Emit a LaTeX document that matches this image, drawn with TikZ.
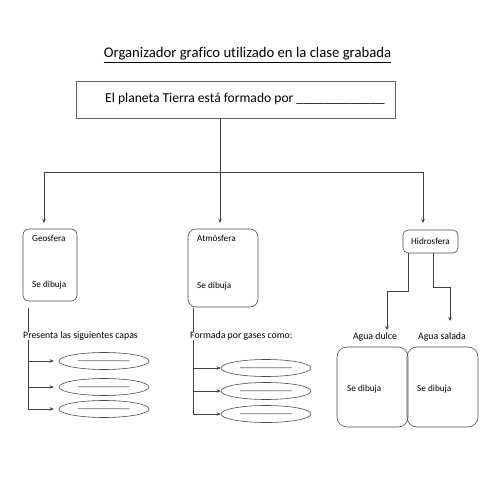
\documentclass[tikz,border=0pt]{standalone}
\usepackage{fontspec}
\setmainfont{Carlito}[Ligatures=NoCommon]
\usetikzlibrary{arrows.meta,positioning,shapes.geometric}

\begin{document}
\begin{tikzpicture}[x=1pt,y=-1pt,
  line/.style={draw=black!75,line width=0.6pt},
  arr/.style={line,-{Stealth[length=4pt,width=3.5pt]}},
  box/.style={draw=black!70,line width=0.6pt,inner sep=0pt},
  lbl/.style={font=\fontsize{9.2}{11}\selectfont,inner sep=0pt},
  sub/.style={font=\fontsize{9.8}{11}\selectfont,inner sep=0pt},
  capa/.style={ellipse,draw=black!70,line width=0.6pt,minimum width=90pt,minimum height=17pt,inner sep=0pt,font=\fontsize{8}{9}\selectfont}
]
\useasboundingbox[fill=white] (0,0) rectangle (495,495);

% titulo y recuadro principal
\node[font=\fontsize{14.7}{17}\selectfont] (title) at (247.5,55) {\underline{Organizador grafico utilizado en la clase grabada}};
\node[draw=black!60,line width=0.8pt,minimum width=319pt,minimum height=37pt,inner sep=0pt] (top) at (235.5,99.5) {};
\node[font=\fontsize{13.6}{15}\selectfont,anchor=west,inner sep=0pt] (frase) at (105,99) {El planeta Tierra está formado por \_\_\_\_\_\_\_\_\_\_\_\_\_};

% tres ramas
\node[box,rounded corners=6pt,minimum width=54pt,minimum height=72pt] (geo) at (50,265) {};
\node[lbl,anchor=west] (geoname) at (32,238) {Geosfera};
\node[lbl,anchor=west] (geodib) at (32,285) {Se dibuja};
\node[box,rounded corners=8pt,minimum width=70pt,minimum height=78pt] (atm) at (223,268) {};
\node[lbl,anchor=west] (atmname) at (197,238) {Atmósfera};
\node[lbl,anchor=west] (atmdib) at (197,286) {Se dibuja};
\node[box,rounded corners=5pt,minimum width=55pt,minimum height=23pt,lbl] (hid) at (430.5,241.5) {Hidrosfera};

\coordinate (split) at (220,172);
\coordinate (geoin) at (44,223);
\coordinate (atmin) at (220,223);
\coordinate (hidin) at (423,223);
\draw[line] (split |- top.south) -- (split);
\draw[arr] (split) -| (geoin);
\draw[arr] (split) -- (atmin);
\draw[arr] (split) -| (hidin);

% hidrosfera
\node[sub] (dulce) at (375,337) {Agua dulce};
\node[sub] (salada) at (442,337) {Agua salada};
\node[box,rounded corners=10pt,minimum width=71pt,minimum height=80pt] (dulcebox) at (372.5,387) {};
\node[box,rounded corners=10pt,minimum width=71pt,minimum height=80pt] (saladabox) at (442.5,387) {};
\node[lbl,anchor=west] (dulcedib) at (347,389) {Se dibuja};
\node[lbl,anchor=west] (saladadib) at (417,389) {Se dibuja};
\coordinate (dulcein) at (387,330);
\coordinate (saladain) at (450,321);
\draw[arr] ([xshift=-22.5pt]hid.south) -- ++(0,38) -| (dulcein);
\draw[arr] ([xshift=2.5pt]hid.south) -- ++(0,34) -| (saladain);

% capas de la geosfera
\node[sub,anchor=west] (capas) at (23,336) {Presenta las siguientes capas};
\node[capa] (g1) at (104,361) {\_\_\_\_\_\_\_\_\_\_\_\_\_};
\node[capa] (g2) at (104,387) {\_\_\_\_\_\_\_\_\_\_\_\_\_};
\node[capa] (g3) at (104,409) {\_\_\_\_\_\_\_\_\_\_\_\_\_};
\coordinate (geotop) at (28,308);
\draw[line] (geotop) -- (geotop |- capas.north);
\draw[arr,shorten >=5pt] (geotop |- capas.south) |- (g3.west);
\draw[arr,shorten >=5pt] (geotop |- g1.west) -- (g1.west);
\draw[arr,shorten >=5pt] (geotop |- g2.west) -- (g2.west);

% gases de la atmosfera
\node[sub,anchor=west] (gases) at (190,336) {Formada por gases como:};
\node[capa] (a1) at (266,368) {\_\_\_\_\_\_\_\_\_\_\_\_\_};
\node[capa] (a2) at (266,391) {\_\_\_\_\_\_\_\_\_\_\_\_\_};
\node[capa] (a3) at (266,414) {\_\_\_\_\_\_\_\_\_\_\_\_\_};
\coordinate (atmtop) at (193,308);
\draw[line] (atmtop) -- (atmtop |- gases.north);
\draw[arr] (atmtop |- gases.south) |- (a3.west);
\draw[arr] (atmtop |- a1.west) -- (a1.west);
\draw[arr] (atmtop |- a2.west) -- (a2.west);
\end{tikzpicture}
\end{document}
